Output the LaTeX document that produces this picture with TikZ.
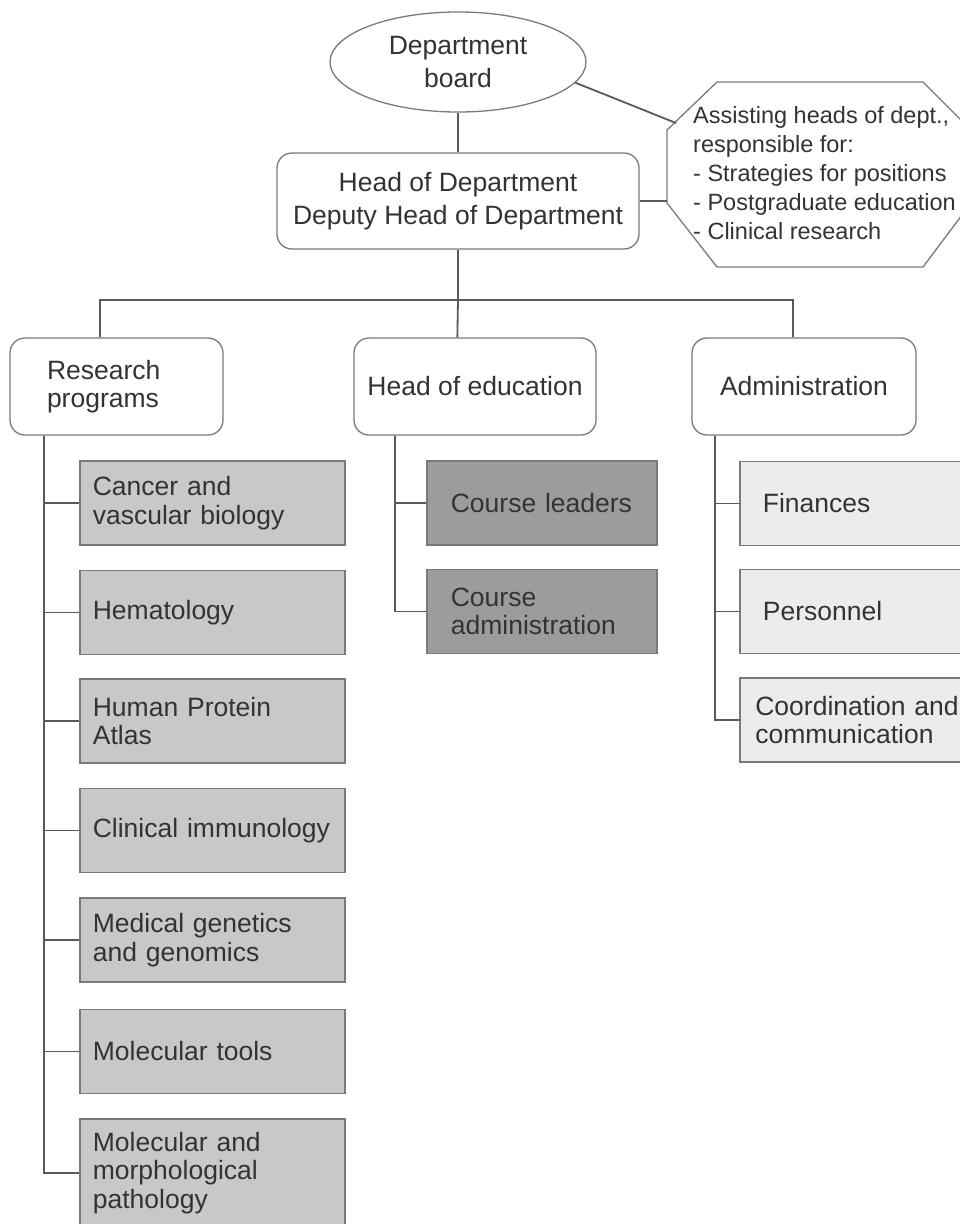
\documentclass[tikz,border=0pt]{standalone}
\usepackage{fontspec}
\setmainfont{Liberation Sans}
\usetikzlibrary{shapes.geometric}
\definecolor{txt}{HTML}{333333}
\definecolor{edge}{HTML}{5A5A5A}
\definecolor{bord}{HTML}{7A7A7A}
\definecolor{resfill}{HTML}{C8C8C8}
\definecolor{edufill}{HTML}{9C9C9C}
\definecolor{admfill}{HTML}{ECECEC}
\begin{document}
\begin{tikzpicture}[x=1pt,y=-1pt,
  every node/.style={text=txt},
  topfont/.style={font=\fontsize{26.5}{33}\selectfont},
  boxfont/.style={font=\fontsize{26.5}{28.5}\selectfont},
  wbox/.style={draw=bord, line width=1.3pt, fill=white, rounded corners=15pt, inner sep=0pt},
  subbox/.style={draw=bord, line width=1.7pt, inner ysep=0pt, minimum height=84pt, boxfont, align=left, anchor=west},
  resbox/.style={subbox, fill=resfill, minimum width=265pt, inner xsep=13pt, text width=239pt},
  edubox/.style={subbox, fill=edufill, minimum width=230pt, inner xsep=24pt, text width=182pt},
  admbox/.style={subbox, fill=admfill, minimum width=251pt, inner xsep=#1, text width=220pt},
  conn/.style={draw=edge, line width=1.8pt}
]
\useasboundingbox (0,0) rectangle (960,1224);
\clip (0,0) rectangle (960,1224);
\fill[white] (0,0) rectangle (960,1224);

% top level
\node[ellipse, draw=bord, line width=1.3pt, fill=white, inner sep=0pt,
      minimum width=256pt, minimum height=100pt, topfont, align=center]
      (db) at (458,62) {Department\\board};
\node[wbox, minimum width=362pt, minimum height=96pt, topfont, align=center]
      (hd) at (458,201) {Head of Department\\Deputy Head of Department};

% assisting heads octagon
\draw[draw=bord, line width=1.3pt, fill=white]
  (717,82) -- (923,82) -- (971,130) -- (971,203) -- (923,267)
  -- (717,267) -- (667,203) -- (667,130) -- cycle;
\node[anchor=north west, inner sep=0pt, align=left,
      font=\fontsize{23.5}{29}\selectfont]
      (asst) at (693,106) {Assisting heads of dept.,\\responsible for:\\- Strategies for positions\\- Postgraduate education\\- Clinical research};
\coordinate (octin) at (676,123);
\coordinate (octw) at (667,201);

% second level
\node[wbox, minimum width=213pt, minimum height=97pt, boxfont, align=left, text width=139pt]
      (rp) at (116.5,386.5) {Research\\programs};
\node[wbox, minimum width=242pt, minimum height=97pt, boxfont, align=center]
      (he) at (475,386.5) {Head of education};
\node[wbox, minimum width=224pt, minimum height=97pt, boxfont, align=center]
      (ad) at (804,386.5) {Administration};

% research programs children
\node[resbox] (r1) at (79,503) {Cancer and\\vascular biology};
\node[resbox] (r2) at (79,612.5) {Hematology};
\node[resbox] (r3) at (79,721) {Human Protein\\Atlas};
\node[resbox] (r4) at (79,830.5) {Clinical immunology};
\node[resbox] (r5) at (79,940) {Medical genetics\\and genomics};
\node[resbox] (r6) at (79,1051.5) {Molecular tools};
\node[resbox, minimum height=108pt] (r7) at (79,1173) {Molecular and\\morphological\\pathology};

% education children
\node[edubox] (e1) at (426,503) {Course leaders};
\node[edubox] (e2) at (426,611.5) {Course\\administration};

% administration children
\node[admbox=23pt] (a1) at (739,503.5) {Finances};
\node[admbox=23pt] (a2) at (739,611.5) {Personnel};
\node[admbox=14pt] (a3) at (739,720) {Coordination and\\communication};

% connectors
\coordinate (bus) at (458,300);
\draw[conn] (db) -- (hd);
\draw[conn] (db.-10) -- (octin);
\draw[conn] (hd.east) -- (octw);
\draw[conn] (hd.south) -- (bus);
\draw[conn] (bus) -| ([xshift=91pt]rp.north west);
\draw[conn] (bus) -| ([xshift=102pt]ad.north west);
\draw[conn] (bus) -- ([xshift=104pt]he.north west);

\foreach \c in {r1,r2,r3,r4,r5,r6,r7}
  \draw[conn] ([xshift=35pt]rp.south west) |- (\c.west);
\foreach \c in {e1,e2}
  \draw[conn] ([xshift=42pt]he.south west) |- (\c.west);
\foreach \c in {a1,a2,a3}
  \draw[conn] ([xshift=24pt]ad.south west) |- (\c.west);
\end{tikzpicture}
\end{document}
